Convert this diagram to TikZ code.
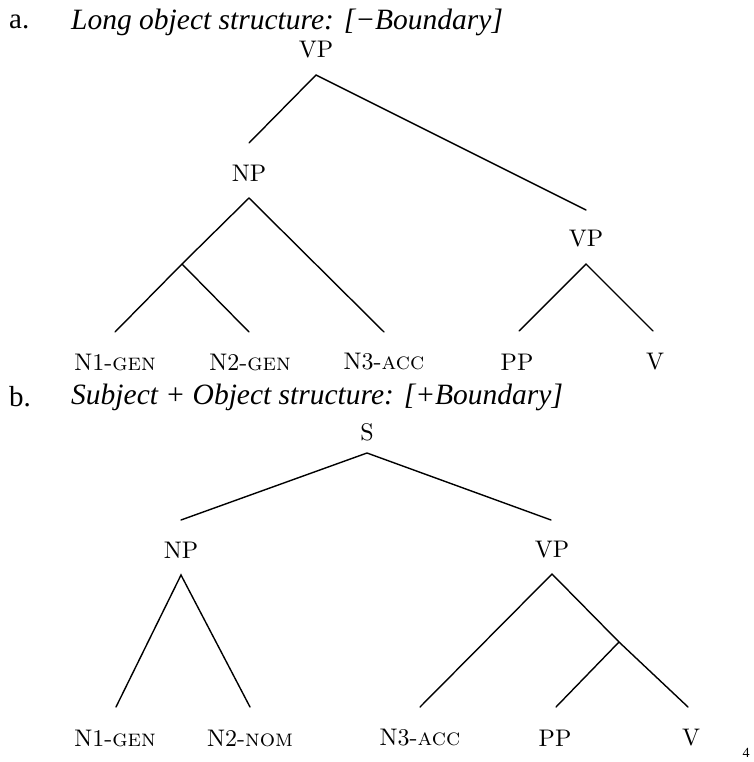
\documentclass[tikz,border=0pt]{standalone}
\usepackage{fontspec}
\newfontfamily\timesf{Liberation Serif}
\newfontfamily\lmten[SmallCapsFont=lmromancaps10-regular.otf]{lmroman10-regular.otf}
\newcommand\smc[1]{\textsc{#1}}
\begin{document}
\begin{tikzpicture}[x=1pt,y=-1pt,
  lab/.style={font=\lmten\fontsize{24}{24}\selectfont, inner sep=0pt, anchor=center},
  ttl/.style={font=\timesf\fontsize{29.5}{29.5}\selectfont\itshape, inner sep=0pt, anchor=west},
  itm/.style={font=\timesf\fontsize{29}{29}\selectfont, inner sep=0pt, anchor=west},
  br/.style={line width=1.4pt, line cap=round}]
\useasboundingbox (0,0) rectangle (753,762);
% ---------- part a ----------
\node[itm] (ia) at (9,22) {a.};
\node[ttl] (ta) at (71,22) {Long object structure: [−Boundary]};
\node[lab] (vpa) at (316,50) {VP};
\coordinate (vpaT) at (316,75);
\coordinate (npaE) at (249,143);
\coordinate (vpbE) at (586,210);
\node[lab] (npa) at (249,173) {NP};
\coordinate (npaT) at (249,198);
\coordinate (npaB) at (182,264);
\coordinate (n1aE) at (115,332);
\coordinate (n2aE) at (249,332);
\coordinate (n3aE) at (384,332);
\node[lab] (vpb) at (586,239) {VP};
\coordinate (vpbT) at (586,264);
\coordinate (ppaE) at (519,331);
\coordinate (vaE) at (653,331);
\node[lab] (n1a) at (115,362) {N1-\smc{gen}};
\node[lab] (n2a) at (250,362) {N2-\smc{gen}};
\node[lab] (n3a) at (384,362) {N3-\smc{acc}};
\node[lab] (ppa) at (517,362) {PP};
\node[lab] (va) at (655,362) {V};
\draw[br] (npaE) -- (vpaT) -- (vpbE);
\draw[br] (n1aE) -- (npaB) -- (npaT) -- (n3aE);
\draw[br] (npaB) -- (n2aE);
\draw[br] (ppaE) -- (vpbT) -- (vaE);
% ---------- part b ----------
\node[itm] (ib) at (9,397) {b.};
\node[ttl] (tb) at (71,397) {Subject + Object structure: [+Boundary]};
\node[lab] (s) at (367,432) {S};
\coordinate (sT) at (367,453);
\coordinate (npbE) at (181,520);
\coordinate (vpcE) at (551,520);
\node[lab] (npb) at (181,550) {NP};
\coordinate (npbT) at (181,575);
\coordinate (n1bE) at (116,707);
\coordinate (n2bE) at (250,707);
\node[lab] (vpc) at (552,550) {VP};
\coordinate (vpcT) at (552,574);
\coordinate (vpcB) at (619,642);
\coordinate (n3bE) at (420,707);
\coordinate (ppbE) at (556,707);
\coordinate (vbE) at (688,707);
\node[lab] (n1b) at (115,738) {N1-\smc{gen}};
\node[lab] (n2b) at (250,738) {N2-\smc{nom}};
\node[lab] (n3b) at (420,738) {N3-\smc{acc}};
\node[lab] (ppb) at (555,738) {PP};
\node[lab] (vb) at (691,738) {V};
\node[font=\timesf\fontsize{14}{14}\selectfont, inner sep=0pt] (pg) at (746,753) {4};
\draw[br] (npbE) -- (sT) -- (vpcE);
\draw[br] (n1bE) -- (npbT) -- (n2bE);
\draw[br] (n3bE) -- (vpcT) -- (vpcB) -- (vbE);
\draw[br] (vpcB) -- (ppbE);
\end{tikzpicture}
\end{document}
